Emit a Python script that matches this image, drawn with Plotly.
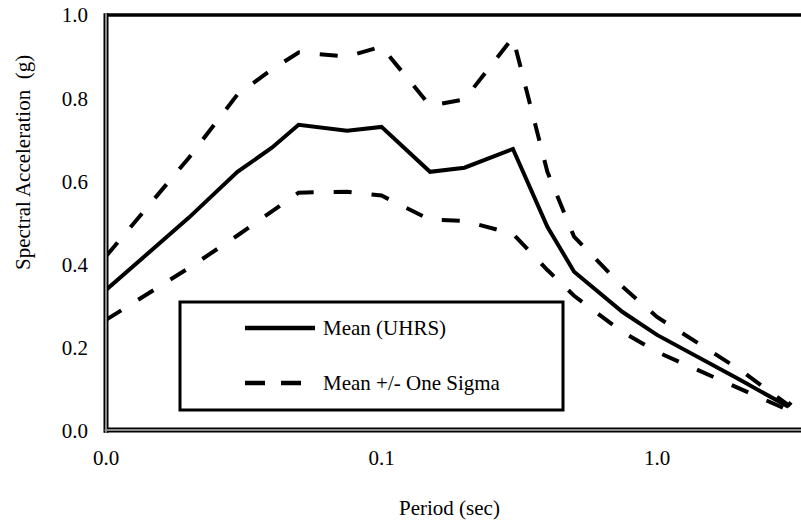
import numpy as np
import plotly.graph_objects as go

# Spectral periods (sec) and accelerations (g)
periods = [0.01, 0.02, 0.03, 0.04, 0.05, 0.075, 0.1, 0.15, 0.2, 0.3, 0.4, 0.5, 0.75, 1.0, 2.0, 3.0]
mean_uhrs = [0.339, 0.513, 0.623, 0.681, 0.736, 0.722, 0.731, 0.623, 0.633, 0.678, 0.491, 0.383, 0.286, 0.231, 0.123, 0.058]
periods_upper = periods + [4.0]
plus_sigma = [0.420, 0.657, 0.809, 0.869, 0.910, 0.900, 0.924, 0.782, 0.797, 0.946, 0.623, 0.467, 0.347, 0.274, 0.147, 0.062, 0.150]
minus_sigma = [0.267, 0.392, 0.470, 0.527, 0.573, 0.575, 0.566, 0.508, 0.505, 0.474, 0.387, 0.325, 0.238, 0.190, 0.101, 0.050]

x_tick_vals = [0.01, 0.1, 1.0]
x_tick_text = ["0.0", "0.1", "1.0"]
y_tick_vals = [0.0, 0.2, 0.4, 0.6, 0.8, 1.0]
y_tick_text = ["0.0", "0.2", "0.4", "0.6", "0.8", "1.0"]

legend_labels = ["Mean (UHRS)", "Mean +/- One Sigma"]

FONT = "Liberation Serif, Times New Roman, serif"
W, H = 801, 523
ML, MR, MT, MB = 106, 0, 15, 92
PW, PH = W - ML - MR, H - MT - MB


def px(x):
    return (x - ML) / PW


def py(y):
    return (H - MB - y) / PH


DASH = "18px,20px"

fig = go.Figure()
fig.add_trace(go.Scatter(x=periods, y=mean_uhrs, mode="lines",
                         line=dict(color="black", width=4), showlegend=False))
fig.add_trace(go.Scatter(x=periods_upper, y=plus_sigma, mode="lines",
                         line=dict(color="black", width=4, dash=DASH), showlegend=False))
fig.add_trace(go.Scatter(x=periods, y=minus_sigma, mode="lines",
                         line=dict(color="black", width=4, dash=DASH), showlegend=False))

shapes = []
# top border
shapes.append(dict(type="line", xref="paper", yref="paper", x0=0, x1=1, y0=1, y1=1,
                   line=dict(color="black", width=3.5)))
# double-ruled left and bottom axes
for w, c in [(5, "black"), (2, "#8c8c8c")]:
    shapes.append(dict(type="line", xref="paper", yref="paper", x0=0, x1=0, y0=-0.004, y1=1.004,
                       line=dict(color=c, width=w)))
    shapes.append(dict(type="line", xref="paper", yref="paper", x0=-0.002, x1=1, y0=py(430), y1=py(430),
                       line=dict(color=c, width=w)))

# legend box with line samples
shapes.append(dict(type="rect", xref="paper", yref="paper",
                   x0=px(180), x1=px(563), y0=py(410), y1=py(302),
                   line=dict(color="black", width=3), fillcolor="white", layer="above"))
shapes.append(dict(type="line", xref="paper", yref="paper",
                   x0=px(245), x1=px(315), y0=py(328), y1=py(328),
                   line=dict(color="black", width=4.5), layer="above"))
shapes.append(dict(type="line", xref="paper", yref="paper",
                   x0=px(245), x1=px(301), y0=py(383), y1=py(383),
                   line=dict(color="black", width=4.5, dash="20px,16px"), layer="above"))

annotations = [
    dict(text=legend_labels[0], xref="paper", yref="paper", x=px(321), y=py(328),
         xanchor="left", yanchor="middle", showarrow=False, font=dict(family=FONT, size=21, color="black")),
    dict(text=legend_labels[1], xref="paper", yref="paper", x=px(321), y=py(383),
         xanchor="left", yanchor="middle", showarrow=False, font=dict(family=FONT, size=21, color="black")),
    dict(text="Period (sec)", xref="paper", yref="paper", x=px(449), y=py(508),
         xanchor="center", yanchor="middle", showarrow=False, font=dict(family=FONT, size=21, color="black")),
    dict(text="Spectral Acceleration  (g)", xref="paper", yref="paper", x=px(23), y=py(163),
         xanchor="center", yanchor="middle", textangle=-90, showarrow=False,
         font=dict(family=FONT, size=21, color="black")),
]

fig.update_layout(
    width=W, height=H,
    margin=dict(l=ML, r=MR, t=MT, b=MB, pad=0),
    paper_bgcolor="white", plot_bgcolor="white",
    font=dict(family=FONT, size=21, color="black"),
    shapes=shapes, annotations=annotations,
    showlegend=False,
)
fig.update_xaxes(type="log", range=[-2, -2 + PW / 275.5], tickvals=x_tick_vals, ticktext=x_tick_text,
                 showgrid=False, zeroline=False, showline=False, ticks="", ticklabelstandoff=12)
fig.update_yaxes(range=[0, 1], tickvals=y_tick_vals, ticktext=y_tick_text,
                 showgrid=False, zeroline=False, showline=False, ticks="", ticklabelstandoff=17)

fig.write_html("out.html")
